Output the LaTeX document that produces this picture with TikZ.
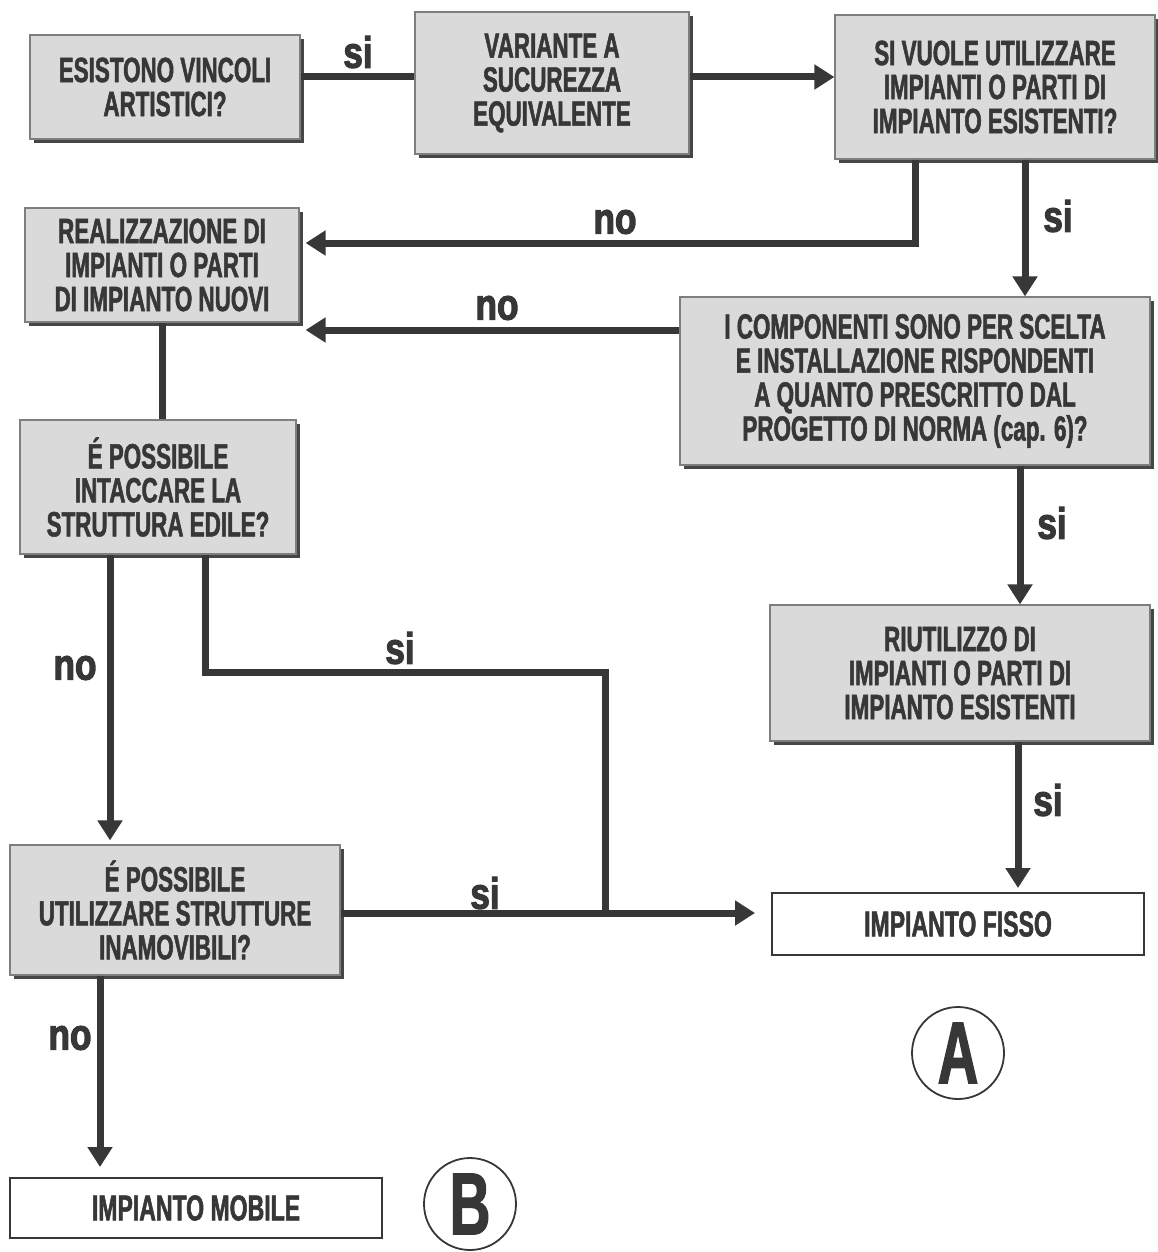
\documentclass[tikz,border=0pt]{standalone}
\usepackage{fontspec}
\setmainfont{Liberation Sans}
\newfontfamily\grassetto{Liberation Sans Bold}[FakeStretch=0.64,FakeBold=1.5]
\newfontfamily\nero{Liberation Sans Bold}[FakeStretch=0.8,FakeBold=2.5]
\usetikzlibrary{arrows.meta,shadows}

\definecolor{inchiostro}{RGB}{55,55,55}
\definecolor{grigiobox}{RGB}{218,218,218}
\definecolor{ombra}{RGB}{70,70,70}

\tikzset{
  blocco/.style={draw=ombra!70, line width=0.6pt, fill=grigiobox, align=center, inner sep=2pt,
    font=\fontsize{17.5}{17}\grassetto, text=inchiostro,
    drop shadow={shadow xshift=2pt, shadow yshift=-2pt, fill=ombra, opacity=1}},
  esito/.style={draw=inchiostro, line width=1pt, fill=white, inner sep=2pt,
    font=\fontsize{18}{18}\grassetto, text=inchiostro},
  freccia/.style={draw=inchiostro, line width=3.5pt, -{Triangle[length=10pt,width=12pt]}},
  linea/.style={draw=inchiostro, line width=3.5pt},
  risposta/.style={font=\fontsize{22}{22}\nero, text=inchiostro},
  lettera/.style={circle, draw=inchiostro, line width=0.9pt, minimum size=46pt, inner sep=0pt,
    font=\fontsize{44}{44}\grassetto, text=inchiostro}
}

\begin{document}
\begin{tikzpicture}[x=0.5pt, y=-0.5pt]
  \useasboundingbox (0,0) rectangle (1157,1252);

  % blocchi del diagramma
  \node[blocco, minimum width=135pt, minimum height=52pt] (vincoli) at (165,87)
    {ESISTONO VINCOLI\\ARTISTICI?};
  \node[blocco, minimum width=137pt, minimum height=71pt] (variante) at (552,83)
    {VARIANTE A\\SUCUREZZA\\EQUIVALENTE};
  \node[blocco, minimum width=160pt, minimum height=72pt] (utilizzo) at (995,87)
    {SI VUOLE UTILIZZARE\\IMPIANTI O PARTI DI\\IMPIANTO ESISTENTI?};
  \node[blocco, minimum width=137pt, minimum height=57pt] (nuovi) at (162,265)
    {REALIZZAZIONE DI\\IMPIANTI O PARTI\\DI IMPIANTO NUOVI};
  \node[blocco, minimum width=235pt, minimum height=84pt] (componenti) at (915,381)
    {I COMPONENTI SONO PER SCELTA\\E INSTALLAZIONE RISPONDENTI\\A QUANTO PRESCRITTO DAL\\PROGETTO DI NORMA (cap. 6)?};
  \node[blocco, minimum width=138pt, minimum height=67pt] (intaccare) at (158,487)
    {É POSSIBILE\\INTACCARE LA\\STRUTTURA EDILE?};
  \node[blocco, minimum width=190pt, minimum height=68pt] (riutilizzo) at (960,673)
    {RIUTILIZZO DI\\IMPIANTI O PARTI DI\\IMPIANTO ESISTENTI};
  \node[blocco, minimum width=165pt, minimum height=65pt] (inamovibili) at (175,910)
    {É POSSIBILE\\UTILIZZARE STRUTTURE\\INAMOVIBILI?};
  \node[esito, minimum width=186pt, minimum height=31pt] (fisso) at (958,924) {IMPIANTO FISSO};
  \node[esito, minimum width=186pt, minimum height=30pt] (mobile) at (196,1208) {IMPIANTO MOBILE};

  \node[lettera] (cerchioA) at (958,1053) {A};
  \node[lettera] (cerchioB) at (470,1204) {B};

  % collegamenti
  \draw[linea] (vincoli.east |- 0,77) -- (variante.west |- 0,77);
  \draw[freccia] (variante.east |- 0,77) -- (utilizzo.west |- 0,77);
  \draw[freccia] (915,0 |- utilizzo.south) |- ([xshift=3pt]nuovi.east |- 0,243);
  \draw[freccia] (1025,0 |- utilizzo.south) -- (1025,0 |- componenti.north);
  \draw[freccia] (componenti.west |- 0,330) -- ([xshift=3pt]nuovi.east |- 0,330);
  \draw[linea] (nuovi.south) -- (nuovi.south |- intaccare.north);
  \draw[freccia] (1020,0 |- componenti.south) -- (1020,0 |- riutilizzo.north);
  \draw[freccia] (1018,0 |- riutilizzo.south) -- ([yshift=2pt]1018,0 |- fisso.north);
  \draw[freccia] (110,0 |- intaccare.south) -- ([yshift=2pt]110,0 |- inamovibili.north);
  \coordinate (giunto) at (605,913);
  \draw[linea] (205,0 |- intaccare.south) |- (605,672) -- (giunto);
  \draw[freccia] (inamovibili.east |- giunto) -- ([xshift=-8pt]fisso.west |- giunto);
  \draw[freccia] (100,0 |- inamovibili.south) -- ([yshift=5pt]100,0 |- mobile.north);

  % risposte
  \node[risposta] (si1) at (358,52) {si};
  \node[risposta] (no1) at (615,222) {no};
  \node[risposta] (si2) at (1058,216) {si};
  \node[risposta] (no2) at (497,308) {no};
  \node[risposta] (si3) at (1052,523) {si};
  \node[risposta] (si4) at (400,648) {si};
  \node[risposta] (no3) at (75,668) {no};
  \node[risposta] (si5) at (1048,800) {si};
  \node[risposta] (si6) at (485,893) {si};
  \node[risposta] (no4) at (70,1038) {no};
\end{tikzpicture}
\end{document}
